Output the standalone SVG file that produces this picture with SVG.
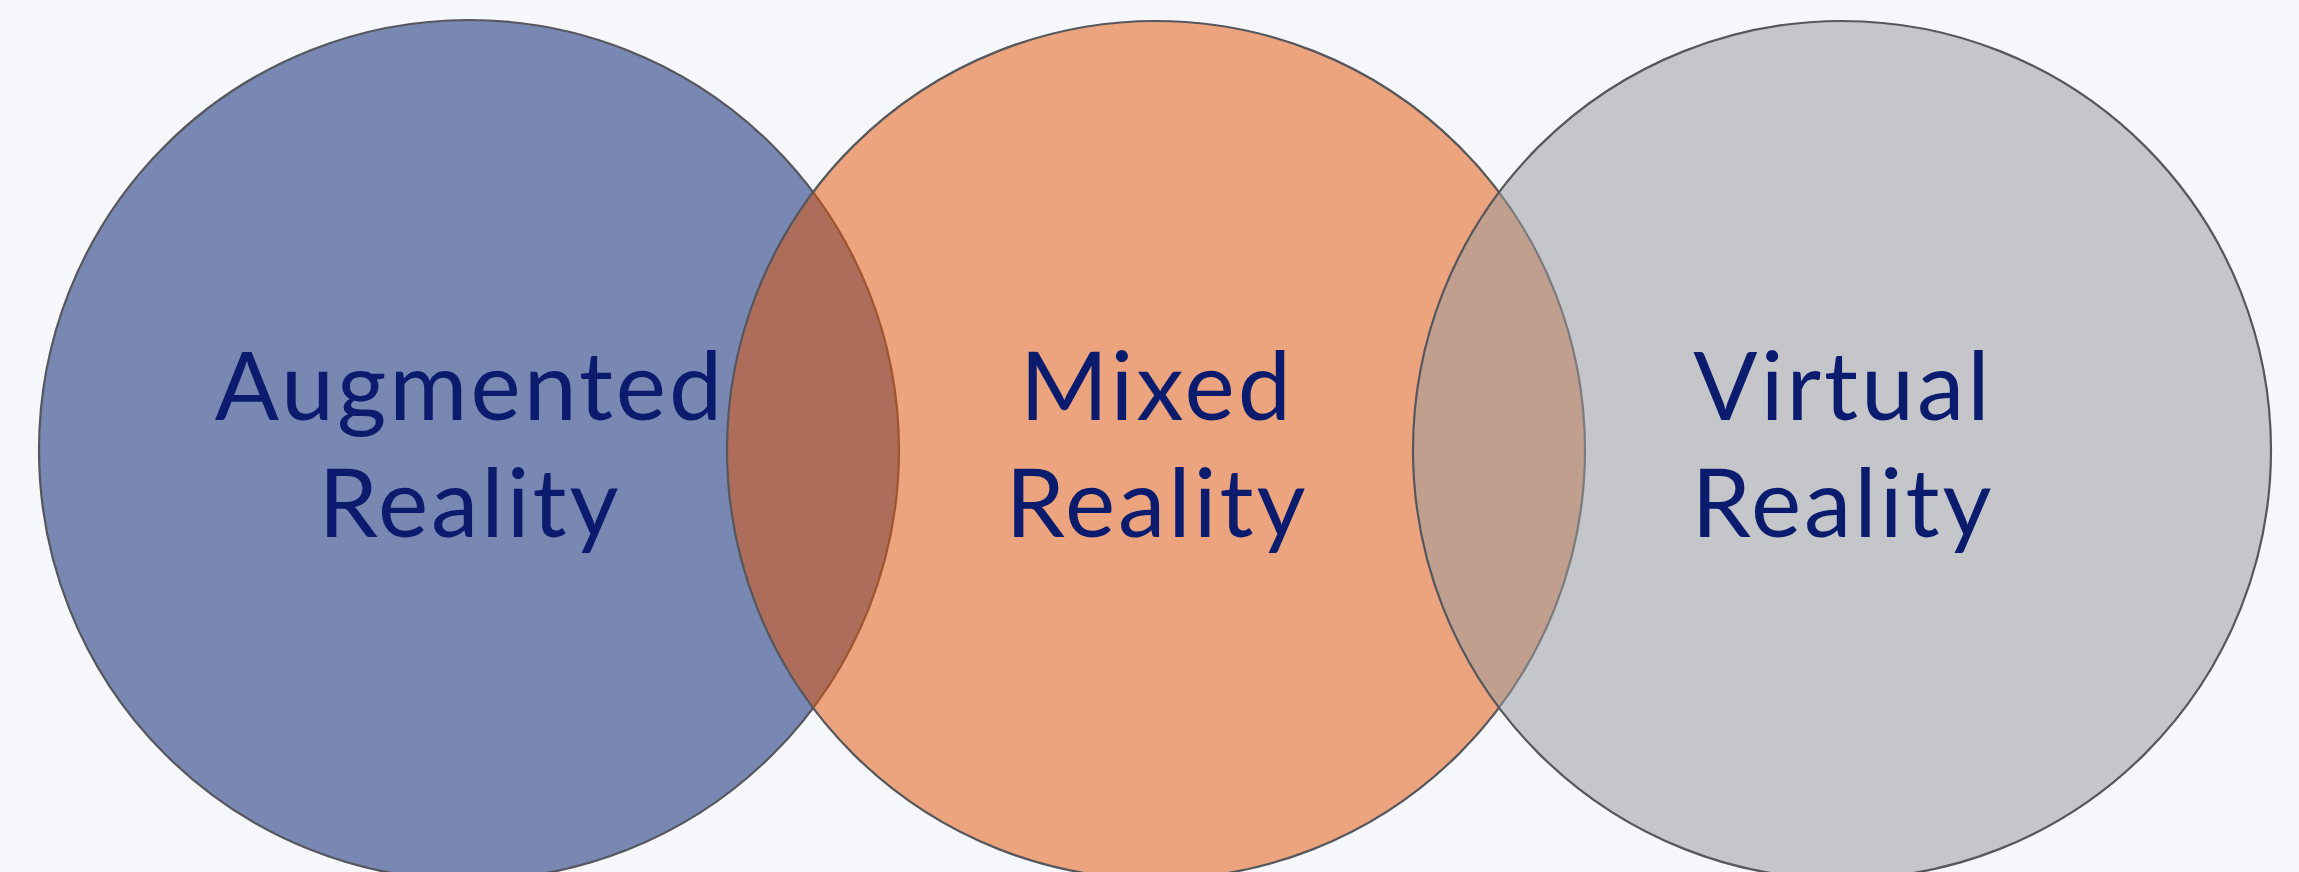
<svg xmlns="http://www.w3.org/2000/svg" width="2299" height="872" viewBox="0 0 2299 872">
<style>
.c{stroke:#56575c;stroke-width:2.2}
.t{font-family:Lato,"Open Sans",sans-serif;font-size:95px;letter-spacing:3px;fill:#0b1c6e;text-anchor:middle}
</style>
<rect width="2299" height="872" fill="#f5f7fb"/>
<g id="ar">
<circle class="c" cx="469" cy="450" r="430" fill="#7987b3"/>
<text class="t" x="470" y="420">Augmented</text>
<text class="t" x="470" y="537">Reality</text>
</g>
<g id="mr">
<circle class="c" cx="1156" cy="450" r="429" fill="#e15406" fill-opacity="0.51"/>
<text class="t" x="1157" y="420" letter-spacing="6">Mixed</text>
<text class="t" x="1157" y="537">Reality</text>
</g>
<g id="vr">
<circle class="c" cx="1842" cy="450" r="429" fill="#9a9a9e" fill-opacity="0.53"/>
<text class="t" x="1843" y="420">Virtual</text>
<text class="t" x="1843" y="537">Reality</text>
</g>
</svg>
